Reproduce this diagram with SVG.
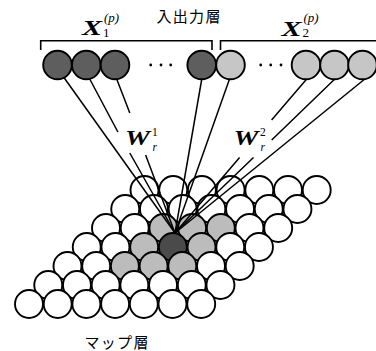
<svg xmlns="http://www.w3.org/2000/svg" width="376" height="351" viewBox="0 0 376 351">
<style>
.m{fill:#fff;stroke:#000;stroke-width:1.9}
.md{fill:#4a4a4a;stroke:#000;stroke-width:1.9}
.ml{fill:#bcbcbc;stroke:#000;stroke-width:1.9}
.id{fill:#5e5e5e;stroke:#000;stroke-width:1.9}
.il{fill:#c6c6c6;stroke:#000;stroke-width:1.9}
.c{stroke:#000;stroke-width:1.5;fill:none}
.br{stroke:#000;stroke-width:1.6;fill:none}
.jp{font-family:"Noto Sans CJK JP","Noto Sans CJK SC",sans-serif;font-size:15px;letter-spacing:1.3px}
.bx{font-family:"Liberation Serif",serif;font-weight:bold;font-style:italic;font-size:20px}
.sm{font-family:"Liberation Serif",serif;font-size:13px}
.ss{font-family:"Liberation Serif",serif;font-size:11.5px}
.dot{fill:#000}
</style>
<g id="map">
<g id="m60"><circle class="m" cx="144.5" cy="190" r="14"/></g>
<g id="m61"><circle class="m" cx="173.2" cy="190" r="14"/></g>
<g id="m62"><circle class="m" cx="201.9" cy="190" r="14"/></g>
<g id="m63"><circle class="m" cx="230.6" cy="190" r="14"/></g>
<g id="m64"><circle class="m" cx="259.3" cy="190" r="14"/></g>
<g id="m65"><circle class="m" cx="288" cy="190" r="14"/></g>
<g id="m66"><circle class="m" cx="316.7" cy="190" r="14"/></g>
<g id="m50"><circle class="m" cx="125.25" cy="209" r="14"/></g>
<g id="m51"><circle class="m" cx="153.95" cy="209" r="14"/></g>
<g id="m52"><circle class="m" cx="182.65" cy="209" r="14"/></g>
<g id="m53"><circle class="m" cx="211.35" cy="209" r="14"/></g>
<g id="m54"><circle class="m" cx="240.05" cy="209" r="14"/></g>
<g id="m55"><circle class="m" cx="268.75" cy="209" r="14"/></g>
<g id="m56"><circle class="m" cx="297.45" cy="209" r="14"/></g>
<g id="m40"><circle class="m" cx="106" cy="228" r="14"/></g>
<g id="m41"><circle class="m" cx="134.7" cy="228" r="14"/></g>
<g id="m42"><circle class="ml" cx="163.4" cy="228" r="14"/></g>
<g id="m43"><circle class="ml" cx="192.1" cy="228" r="14"/></g>
<g id="m44"><circle class="ml" cx="220.8" cy="228" r="14"/></g>
<g id="m45"><circle class="m" cx="249.5" cy="228" r="14"/></g>
<g id="m46"><circle class="m" cx="278.2" cy="228" r="14"/></g>
<g id="m30"><circle class="m" cx="86.75" cy="247" r="14"/></g>
<g id="m31"><circle class="m" cx="115.45" cy="247" r="14"/></g>
<g id="m32"><circle class="ml" cx="144.15" cy="247" r="14"/></g>
<g id="m33"><circle class="md" cx="172.85" cy="247" r="14"/></g>
<g id="m34"><circle class="ml" cx="201.55" cy="247" r="14"/></g>
<g id="m35"><circle class="m" cx="230.25" cy="247" r="14"/></g>
<g id="m36"><circle class="m" cx="258.95" cy="247" r="14"/></g>
<g id="m20"><circle class="m" cx="67.5" cy="266" r="14"/></g>
<g id="m21"><circle class="m" cx="96.2" cy="266" r="14"/></g>
<g id="m22"><circle class="ml" cx="124.9" cy="266" r="14"/></g>
<g id="m23"><circle class="ml" cx="153.6" cy="266" r="14"/></g>
<g id="m24"><circle class="ml" cx="182.3" cy="266" r="14"/></g>
<g id="m25"><circle class="m" cx="211" cy="266" r="14"/></g>
<g id="m26"><circle class="m" cx="239.7" cy="266" r="14"/></g>
<g id="m10"><circle class="m" cx="48.25" cy="285" r="14"/></g>
<g id="m11"><circle class="m" cx="76.95" cy="285" r="14"/></g>
<g id="m12"><circle class="m" cx="105.65" cy="285" r="14"/></g>
<g id="m13"><circle class="m" cx="134.35" cy="285" r="14"/></g>
<g id="m14"><circle class="m" cx="163.05" cy="285" r="14"/></g>
<g id="m15"><circle class="m" cx="191.75" cy="285" r="14"/></g>
<g id="m16"><circle class="m" cx="220.45" cy="285" r="14"/></g>
<g id="m00"><circle class="m" cx="29" cy="304" r="14"/></g>
<g id="m01"><circle class="m" cx="57.7" cy="304" r="14"/></g>
<g id="m02"><circle class="m" cx="86.4" cy="304" r="14"/></g>
<g id="m03"><circle class="m" cx="115.1" cy="304" r="14"/></g>
<g id="m04"><circle class="m" cx="143.8" cy="304" r="14"/></g>
<g id="m05"><circle class="m" cx="172.5" cy="304" r="14"/></g>
<g id="m06"><circle class="m" cx="201.2" cy="304" r="14"/></g>
</g>
<g id="connectors">
<path class="c" d="M60,72 L175,233"/>
<path class="c" d="M86,72 L117.9,132 M129.8,153 L175,233"/>
<path class="c" d="M114,72 L129.8,113 M145.6,155 L175,233"/>
<path class="c" d="M203,72 L175,233"/>
<path class="c" d="M232,72 L175,233"/>
<path class="c" d="M311,74 L271.6,120 M239.6,157.5 L175,233"/>
<path class="c" d="M340,74 L271.7,140 M253.5,157.5 L175,233"/>
<path class="c" d="M371,74 L175,233"/>
</g>
<g id="input">
<g id="in1"><circle class="id" cx="57.5" cy="65" r="14.3"/></g>
<g id="in2"><circle class="id" cx="86.3" cy="65" r="14.3"/></g>
<g id="in3"><circle class="id" cx="115" cy="65" r="14.3"/></g>
<g id="dots1"><circle class="dot" cx="150.7" cy="65" r="1.4"/><circle class="dot" cx="161" cy="65" r="1.4"/><circle class="dot" cx="170.7" cy="65" r="1.4"/></g>
<g id="in4"><circle class="id" cx="201.7" cy="65" r="14.3"/></g>
<g id="in5"><circle class="il" cx="230.5" cy="65" r="14.3"/></g>
<g id="dots2"><circle class="dot" cx="260.7" cy="65" r="1.4"/><circle class="dot" cx="270.7" cy="65" r="1.4"/><circle class="dot" cx="281" cy="65" r="1.4"/></g>
<g id="in6"><circle class="il" cx="306" cy="65" r="14.3"/></g>
<g id="in7"><circle class="il" cx="334.5" cy="65" r="14.3"/></g>
<g id="in8"><circle class="il" cx="362.5" cy="65" r="14.3"/></g>
</g>
<g id="brackets">
<path class="br" d="M40.7,50 V40.8 H212 V50"/>
<path class="br" d="M220.5,50 V40.8 H377"/>
</g>
<g id="labels">
<text class="jp" x="156.5" y="21.5">入出力層</text>
<text class="jp" x="84.5" y="347.5">マップ層</text>
<text class="bx" x="82" y="35" textLength="20" lengthAdjust="spacingAndGlyphs">X</text>
<text class="sm" x="103" y="37">1</text>
<text class="sm" x="104" y="22" font-style="italic">(p)</text>
<text class="bx" x="281.5" y="35.5" textLength="20" lengthAdjust="spacingAndGlyphs">X</text>
<text class="sm" x="302.5" y="37">2</text>
<text class="sm" x="303.5" y="22" font-style="italic">(p)</text>
<text class="bx" x="125" y="145" textLength="25" lengthAdjust="spacingAndGlyphs">W</text>
<text class="ss" x="152" y="136">1</text>
<text class="ss" x="152.5" y="151" font-style="italic">r</text>
<text class="bx" x="233.5" y="145" textLength="25" lengthAdjust="spacingAndGlyphs">W</text>
<text class="ss" x="260" y="136">2</text>
<text class="ss" x="260.5" y="151" font-style="italic">r</text>
</g>
</svg>
